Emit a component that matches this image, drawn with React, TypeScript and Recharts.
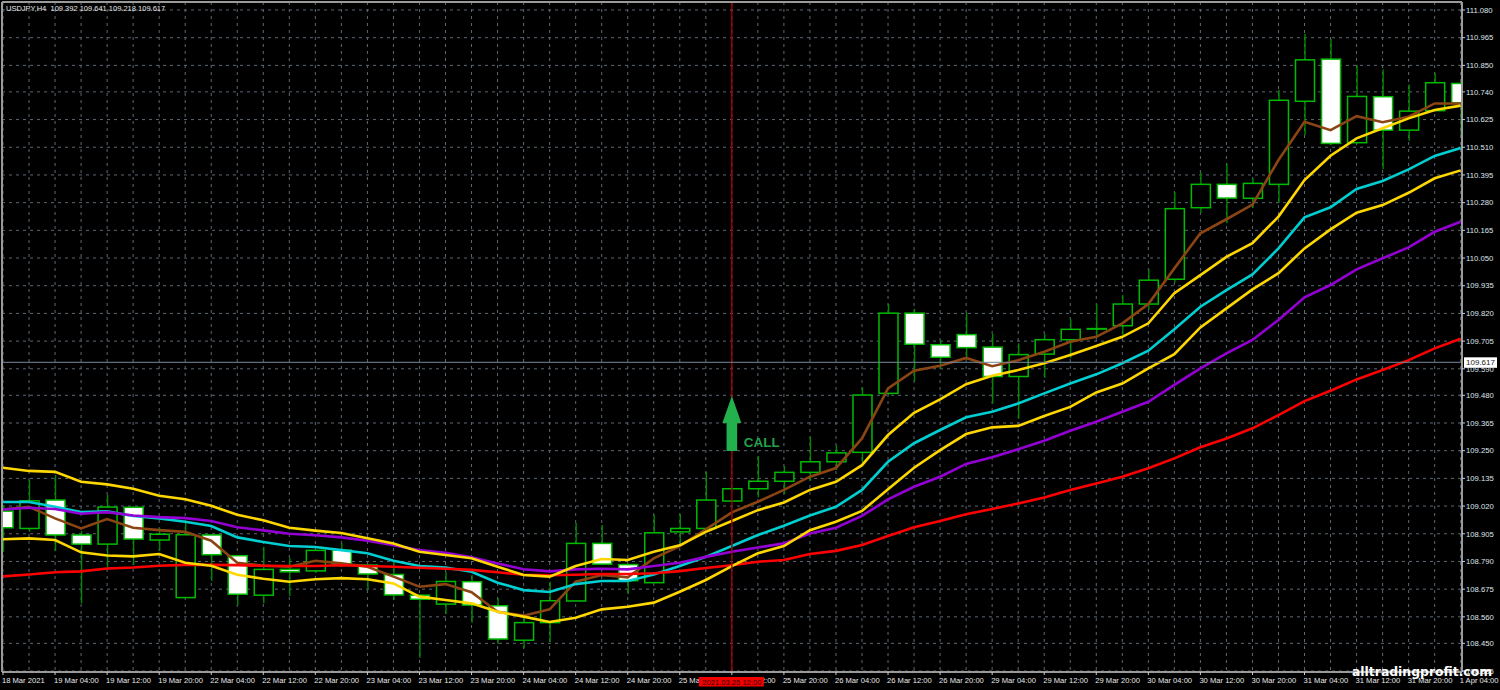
import React from "react";
import { ComposedChart, Bar, Line, XAxis, YAxis, CartesianGrid, ReferenceLine, ReferenceDot } from "recharts";

const OPEN = [108.999,108.927,109.045,108.900,108.862,109.015,108.879,108.640,108.900,108.814,108.650,108.757,108.751,108.837,108.775,108.736,108.650,108.613,108.706,108.606,108.463,108.536,108.626,108.865,108.777,108.702,108.913,108.927,109.041,109.092,109.123,109.160,109.204,109.243,109.488,109.821,109.690,109.732,109.680,109.558,109.651,109.711,109.755,109.769,109.859,109.962,110.259,110.356,110.298,110.356,110.701,110.876,110.529,110.720,110.581,110.662,110.775];
const HIGH = [109.024,109.128,109.149,108.916,109.066,109.016,108.929,108.951,108.900,108.814,108.851,108.804,108.837,108.866,108.775,108.789,108.651,108.747,108.734,108.638,108.555,108.706,108.950,108.941,108.779,108.983,108.987,109.163,109.092,109.228,109.186,109.308,109.272,109.513,109.859,109.839,109.710,109.822,109.735,109.696,109.735,109.796,109.859,109.897,110.003,110.324,110.405,110.443,110.382,110.748,110.980,110.959,110.851,110.833,110.771,110.817,110.789];
const LOW = [108.830,108.913,108.834,108.616,108.765,108.775,108.834,108.640,108.710,108.609,108.616,108.647,108.742,108.767,108.675,108.630,108.390,108.572,108.536,108.447,108.430,108.456,108.626,108.779,108.655,108.702,108.858,108.927,109.041,109.056,109.070,109.125,109.170,109.200,109.481,109.539,109.590,109.635,109.446,109.382,109.553,109.635,109.718,109.731,109.834,109.948,110.237,110.194,110.258,110.280,110.561,110.519,110.527,110.419,110.537,110.662,110.561];
const CLOSE = [108.930,109.042,108.900,108.862,109.016,108.883,108.903,108.901,108.818,108.654,108.757,108.747,108.836,108.779,108.738,108.651,108.633,108.707,108.609,108.468,108.536,108.627,108.865,108.779,108.710,108.909,108.927,109.045,109.092,109.123,109.160,109.204,109.241,109.481,109.821,109.692,109.638,109.678,109.558,109.649,109.711,109.754,109.757,109.859,109.958,110.255,110.356,110.299,110.360,110.705,110.873,110.526,110.721,110.581,110.660,110.778,110.695];

const BROWN = [109.006,109.017,108.969,108.927,108.966,108.930,108.920,108.913,108.876,108.785,108.772,108.768,108.793,108.782,108.768,108.727,108.685,108.696,108.662,108.581,108.565,108.591,108.706,108.734,108.724,108.803,108.854,108.923,108.994,109.038,109.087,109.142,109.178,109.301,109.509,109.582,109.603,109.635,109.601,109.626,109.661,109.702,109.723,109.779,109.859,110.007,110.153,110.211,110.272,110.457,110.616,110.581,110.639,110.614,110.637,110.692,110.692];
const GOLD_UPPER = [109.179,109.166,109.162,109.121,109.110,109.092,109.063,109.048,109.021,108.984,108.961,108.930,108.918,108.908,108.886,108.865,108.830,108.817,108.803,108.768,108.734,108.727,108.771,108.800,108.796,108.830,108.857,108.913,108.958,109.003,109.035,109.087,109.121,109.190,109.315,109.407,109.463,109.526,109.561,109.585,109.613,109.647,109.685,109.723,109.779,109.904,109.979,110.055,110.112,110.222,110.374,110.475,110.547,110.589,110.630,110.665,110.683];
const CYAN = [109.037,109.037,109.017,108.995,108.998,108.979,108.969,108.955,108.937,108.890,108.871,108.854,108.850,108.837,108.824,108.793,108.771,108.765,108.747,108.702,108.671,108.663,108.696,108.709,108.709,108.736,108.771,108.809,108.854,108.900,108.938,108.981,109.017,109.087,109.204,109.281,109.336,109.389,109.412,109.446,109.488,109.529,109.567,109.613,109.665,109.754,109.848,109.917,109.982,110.090,110.219,110.261,110.337,110.370,110.418,110.474,110.507];
const GOLD_LOWER = [108.882,108.886,108.879,108.828,108.815,108.811,108.821,108.785,108.772,108.735,108.718,108.706,108.716,108.721,108.716,108.699,108.644,108.630,108.616,108.581,108.561,108.539,108.556,108.591,108.602,108.619,108.664,108.713,108.771,108.824,108.854,108.920,108.955,109.000,109.090,109.179,109.252,109.319,109.347,109.353,109.394,109.432,109.492,109.529,109.592,109.651,109.762,109.841,109.920,109.987,110.090,110.169,110.238,110.270,110.321,110.381,110.414];
const PURPLE = [109.006,109.013,109.008,108.988,108.995,108.981,108.974,108.970,108.958,108.932,108.919,108.905,108.899,108.890,108.876,108.857,108.837,108.826,108.807,108.782,108.758,108.749,108.757,108.760,108.757,108.771,108.785,108.809,108.830,108.848,108.865,108.906,108.930,108.979,109.048,109.100,109.142,109.195,109.223,109.256,109.291,109.333,109.370,109.412,109.453,109.523,109.592,109.654,109.710,109.793,109.887,109.938,110.003,110.049,110.094,110.159,110.201];
const RED = [108.728,108.736,108.745,108.749,108.761,108.765,108.772,108.776,108.776,108.775,108.772,108.771,108.771,108.774,108.771,108.768,108.764,108.760,108.755,108.745,108.735,108.733,108.735,108.738,108.738,108.741,108.750,108.763,108.774,108.789,108.796,108.821,108.834,108.858,108.896,108.932,108.958,108.986,109.008,109.031,109.056,109.087,109.114,109.142,109.177,109.218,109.264,109.301,109.343,109.398,109.456,109.499,109.546,109.585,109.626,109.675,109.715];

const PRICE_TICKS = [111.08,110.965,110.85,110.74,110.625,110.51,110.395,110.28,110.165,110.05,109.935,109.82,109.705,109.59,109.48,109.365,109.25,109.135,109.02,108.905,108.79,108.675,108.56,108.45,108.335];
const TIME_LABELS = ["18 Mar 2021","19 Mar 04:00","19 Mar 12:00","19 Mar 20:00","22 Mar 04:00","22 Mar 12:00","22 Mar 20:00","23 Mar 04:00","23 Mar 12:00","23 Mar 20:00","24 Mar 04:00","24 Mar 12:00","24 Mar 20:00","25 Mar 04:00","25 Mar 12:00","25 Mar 20:00","26 Mar 04:00","26 Mar 12:00","26 Mar 20:00","29 Mar 04:00","29 Mar 12:00","29 Mar 20:00","30 Mar 04:00","30 Mar 12:00","30 Mar 20:00","31 Mar 04:00","31 Mar 12:00","31 Mar 20:00","1 Apr 04:00"];
const HEADER = "USDJPY,H4  109.392 109.641 109.218 109.617";
const CURRENT_PRICE = 109.617;
const SIGNAL_INDEX = 28;
const SIGNAL_PRICE = 109.2485;
const SIGNAL_TIME = "2021.03.25 12:00";

const rows = OPEN.map((o, i) => ({
  i,
  range: [LOW[i], HIGH[i]],
  open: o, high: HIGH[i], low: LOW[i], close: CLOSE[i],
  brown: BROWN[i], goldUpper: GOLD_UPPER[i], cyan: CYAN[i], goldLower: GOLD_LOWER[i], purple: PURPLE[i], red: RED[i],
}));
const candleTicks = rows.map((r) => r.i);
const labelTicks = TIME_LABELS.map((_, k) => k * 2);

const PLOT_LEFT = 2, PLOT_RIGHT = 1462;
const FONT = "'Liberation Sans', sans-serif";
const FRAME = "#9a9a9a";
const LINE_W = 2.6;

function Candle(props: any) {
  const { x, y, width, height, payload } = props;
  const span = payload.high - payload.low || 1;
  const top = Math.max(payload.open, payload.close);
  const bottom = Math.min(payload.open, payload.close);
  const yTop = y + ((payload.high - top) / span) * height;
  const yBottom = y + ((payload.high - bottom) / span) * height;
  const cx = x + width / 2;
  const left = Math.max(x, PLOT_LEFT);
  const right = Math.min(x + width, PLOT_RIGHT);
  const down = payload.close < payload.open;
  return (
    <g>
      <line x1={cx} x2={cx} y1={y} y2={y + height} stroke="#008a00" strokeWidth={1.4} />
      <rect x={left} y={yTop} width={right - left} height={Math.max(yBottom - yTop, 0.5)}
        fill={down ? "#ffffff" : "#000000"} stroke="#00bc00" strokeWidth={1.5} />
    </g>
  );
}

function TimeTick(props: any) {
  const { x, y, payload } = props;
  const label = TIME_LABELS[payload.value / 2];
  return (
    <g>
      <text x={x - 1} y={y + 6} fill="#e8e8e8" fontSize={7.6} fontFamily={FONT}>{label}</text>
      {payload.value === SIGNAL_INDEX && (
        <g>
          <rect x={x - 33} y={y} width={65} height={9.5} fill="#f00000" />
          <text x={x} y={y + 7.5} fill="#3a0000" fontSize={7.6} fontFamily={FONT} textAnchor="middle">{SIGNAL_TIME}</text>
        </g>
      )}
    </g>
  );
}

function PriceTag(props: any) {
  const { viewBox } = props;
  const py = viewBox.y;
  return (
    <g>
      <rect x={1464} y={py - 5} width={33} height={10.5} fill="#ffffff" />
      <text x={1480.5} y={py + 3} fill="#1a1a1a" fontSize={8} fontFamily={FONT} textAnchor="middle">{CURRENT_PRICE.toFixed(3)}</text>
    </g>
  );
}

function Signal(props: any) {
  const { cx, cy } = props;
  const pts = [[0,-55],[9.5,-28],[5.3,-28],[5.3,0],[-5.3,0],[-5.3,-28],[-9.5,-28]].map(([a,b]) => `${cx+a},${cy+b}`).join(" ");
  return (
    <g>
      <polygon points={pts} fill="#22b14c" />
      <text x={cx + 12} y={cy - 4.5} fill="#22a04a" fontSize={13.5} fontWeight={700} fontFamily={FONT}>CALL</text>
    </g>
  );
}

export default function App() {
  return (
    <div style={{ position: "fixed", left: 0, top: 0, width: 1500, height: 690, background: "#000", overflow: "hidden" }}>
      <ComposedChart width={1500} height={690} data={rows} margin={{ top: 2, left: 2, right: 0, bottom: 0 }}>
        <CartesianGrid stroke="#5d6873" strokeDasharray="3 4" strokeWidth={1}
          verticalValues={candleTicks} horizontalValues={PRICE_TICKS} />
        <XAxis dataKey="i" type="number" domain={[-0.038, 56.05]} allowDataOverflow ticks={labelTicks} interval={0}
          height={18} tick={<TimeTick />} tickSize={3} tickLine={{ stroke: "#cccccc" }}
          axisLine={{ stroke: FRAME, strokeWidth: 2 }} />
        <YAxis orientation="right" domain={[108.331, 111.1132]} allowDataOverflow ticks={PRICE_TICKS} interval={0} width={38}
          tickFormatter={(v: number) => v.toFixed(3)} tickSize={3} tickMargin={1}
          tick={{ fill: "#dfe6ee", fontSize: 7.7, fontFamily: FONT }}
          tickLine={{ stroke: "#cccccc" }} axisLine={{ stroke: FRAME, strokeWidth: 2 }} />
        <Bar dataKey="range" barSize={19} isAnimationActive={false} shape={<Candle />} />
        <Line dataKey="brown" stroke="#8b4513" strokeWidth={LINE_W} dot={false} isAnimationActive={false} />
        <Line dataKey="cyan" stroke="#00ced1" strokeWidth={LINE_W} dot={false} isAnimationActive={false} />
        <Line dataKey="purple" stroke="#9400d3" strokeWidth={LINE_W} dot={false} isAnimationActive={false} />
        <Line dataKey="red" stroke="#ff0000" strokeWidth={LINE_W} dot={false} isAnimationActive={false} />
        <Line dataKey="goldLower" stroke="#ffd700" strokeWidth={LINE_W} dot={false} isAnimationActive={false} />
        <Line dataKey="goldUpper" stroke="#ffd700" strokeWidth={LINE_W} dot={false} isAnimationActive={false} />
        <ReferenceLine x={SIGNAL_INDEX} stroke="#a00000" strokeWidth={1.4} />
        <ReferenceLine y={CURRENT_PRICE} stroke="#778899" strokeWidth={1} label={<PriceTag />} />
        <ReferenceLine y={111.1132} stroke={FRAME} strokeWidth={2} />
        <ReferenceLine x={-0.038} stroke={FRAME} strokeWidth={2} />
        <ReferenceDot x={SIGNAL_INDEX} y={SIGNAL_PRICE} shape={<Signal />} />
      </ComposedChart>
      <div style={{ position: "absolute", left: 6, top: 4, color: "#e6e6e6", font: `7.5px ${FONT}`, whiteSpace: "pre" }}>{HEADER}</div>
      <div style={{ position: "absolute", left: 1352, top: 664, color: "#ffffff", font: `700 12.4px 'DejaVu Sans', sans-serif`, whiteSpace: "pre" }}>alltradingprofit.com</div>
    </div>
  );
}
